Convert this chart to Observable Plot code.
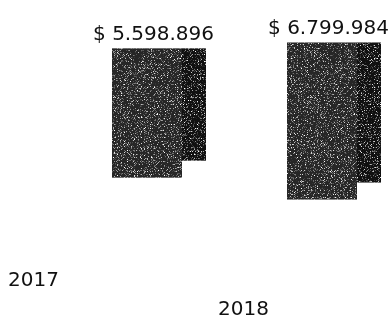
<!DOCTYPE html>
<html>
<head>
<meta charset="utf-8">
<script src="https://cdn.jsdelivr.net/npm/d3@7"></script>
<script src="https://cdn.jsdelivr.net/npm/@observablehq/plot@0.6"></script>
<style>
  html, body { margin: 0; padding: 0; background: #fff; }
  #wrap { position: relative; width: 391px; height: 318px; overflow: hidden; }
  #wrap svg { position: absolute; left: 0; top: 0; }
</style>
</head>
<body>
<div id="wrap"></div>
<script>
// Data
const years = ["2017", "2018"];
const values = [5598896, 6799984];

const data = years.map((year, i) => ({year, value: values[i]}));
const fmt = d3.formatLocale({decimal: ",", thousands: ".", grouping: [3], currency: ["$ ", ""]}).format("$,.0f");

const FONT = "DejaVu Sans";
const TILT = 0.125; // perspective drop of the floor per pixel to the right

const main = Plot.plot({
  width: 391,
  height: 318,
  margin: 0,
  style: {fontFamily: FONT, background: "transparent", overflow: "visible"},
  x: {type: "band", domain: years, range: [112, 381], paddingInner: 0.463, paddingOuter: 0, align: 0.5, axis: null},
  y: {domain: [0, 7000000], range: [157.8, -3.9], axis: null},
  marks: [
    // side face (darker, foreshortened)
    Plot.barY(data, {x: "year", y: "value", insetLeft: 70, insetBottom: 17, fill: "#101010"}),
    // front face
    Plot.barY(data, {x: "year", y: "value", insetRight: 24, fill: "#262626"}),
    // value labels
    Plot.text(data, {x: "year", y: "value", text: d => fmt(d.value), dx: -6, dy: -9,
      lineAnchor: "bottom", textAnchor: "middle", fontSize: 20, fill: "#111"})
  ]
});

// floor labels (category names lying on the tilted floor)
const floor = Plot.plot({
  width: 391,
  height: 318,
  margin: 0,
  style: {fontFamily: FONT, background: "transparent", overflow: "visible"},
  x: {type: "point", domain: years, range: [33, 243.5], padding: 0, axis: null},
  y: {type: "point", domain: years, range: [285, 314], padding: 0, axis: null},
  marks: [
    Plot.text(years, {x: d => d, y: d => d, text: d => d, lineAnchor: "bottom",
      textAnchor: "middle", fontSize: 20, fill: "#111"})
  ]
});

const wrap = document.getElementById("wrap");
wrap.appendChild(main);
wrap.appendChild(floor);

// grain texture filter (scanned look)
const NS = "http://www.w3.org/2000/svg";
const defs = document.createElementNS(NS, "defs");
defs.innerHTML = `
<filter id="grain" x="0" y="0" width="100%" height="100%" color-interpolation-filters="sRGB">
  <feTurbulence type="fractalNoise" baseFrequency="1.3" numOctaves="1" seed="7" result="n"/>
  <feColorMatrix in="n" type="matrix" values="0 0 0 0 1  0 0 0 0 1  0 0 0 0 1  5 0 0 0 -2.75" result="w"/>
  <feComposite in="w" in2="SourceAlpha" operator="in" result="wi"/>
  <feMerge><feMergeNode in="SourceGraphic"/><feMergeNode in="wi"/></feMerge>
</filter>`;
main.insertBefore(defs, main.firstChild);

// perspective: each bar (and its label) drops with its x position
const xs = main.scale("x");
const center = y => xs.apply(y) + xs.bandwidth / 2;
main.querySelectorAll('g[aria-label="bar"], g[aria-label="text"]').forEach(g => {
  if (g.getAttribute("aria-label") === "bar") g.setAttribute("filter", "url(#grain)");
  Array.from(g.children).forEach((el, i) => {
    const s = TILT * center(years[i]);
    const prev = el.getAttribute("transform");
    el.setAttribute("transform", `translate(0,${s})` + (prev ? " " + prev : ""));
  });
});
</script>
</body>
</html>
